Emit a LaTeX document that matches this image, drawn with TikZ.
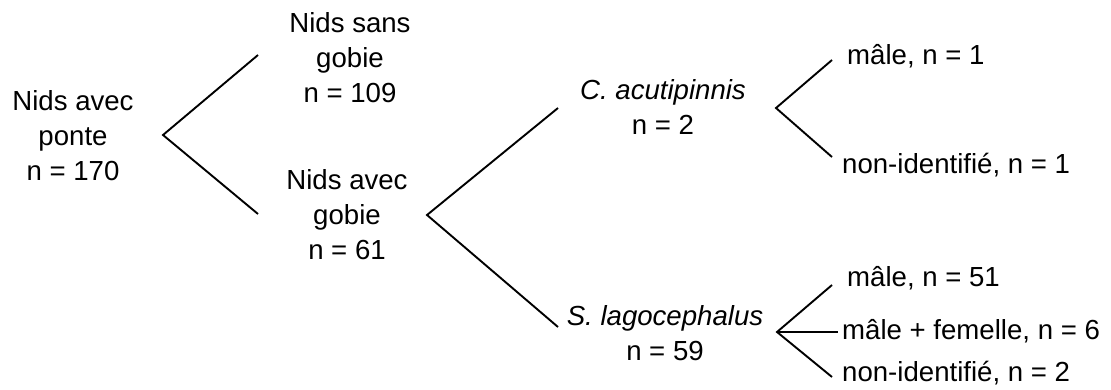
\documentclass[tikz,border=0pt]{standalone}
\usepackage{fontspec}
\setmainfont{Liberation Sans}
\begin{document}
\begin{tikzpicture}[x=1pt,y=-1pt,
  lbl/.style={inner sep=0pt,align=center,font=\fontsize{27.6}{35}\selectfont},
  leaf/.style={inner sep=0pt,anchor=west,font=\fontsize{27.6}{35}\selectfont},
  branch/.style={line width=1.9pt,line join=miter}]
\useasboundingbox (0,0) rectangle (1111,389);
% text nodes
\node[lbl] (root) at (73,136) {Nids avec\\ponte\\n = 170};
\node[lbl] (sans) at (350,58) {Nids sans\\gobie\\n = 109};
\node[lbl] (avec) at (347,215) {Nids avec\\gobie\\n = 61};
\node[lbl] (cac) at (663,107) {\textit{C. acutipinnis}\\n = 2};
\node[lbl] (sla) at (665,333) {\textit{S. lagocephalus}\\n = 59};
\node[leaf] (m1) at (847,56) {mâle, n = 1};
\node[leaf] (ni1) at (842,165) {non-identifié, n = 1};
\node[leaf] (m51) at (847,278) {mâle, n = 51};
\node[leaf] (mf6) at (842,331) {mâle + femelle, n = 6};
\node[leaf] (ni2) at (842,373) {non-identifié, n = 2};
% branch coordinates
\coordinate (v0) at (163,135);
\coordinate (v0a) at (258,55);
\coordinate (v0b) at (258,214);
\coordinate (v1) at (427,215);
\coordinate (v1a) at (558,108);
\coordinate (v1b) at (558,327);
\coordinate (v2) at (776,108);
\coordinate (v2a) at (832,60);
\coordinate (v2b) at (832,157);
\coordinate (v3) at (777,332);
\coordinate (v3a) at (832,285);
\coordinate (v3b) at (838,332);
\coordinate (v3c) at (832,377);
% connectors
\draw[branch] (v0a) -- (v0) -- (v0b);
\draw[branch] (v1a) -- (v1) -- (v1b);
\draw[branch] (v2a) -- (v2) -- (v2b);
\draw[branch] (v3a) -- (v3) -- (v3c);
\draw[branch] (v3) -- (v3b);
\end{tikzpicture}
\end{document}
